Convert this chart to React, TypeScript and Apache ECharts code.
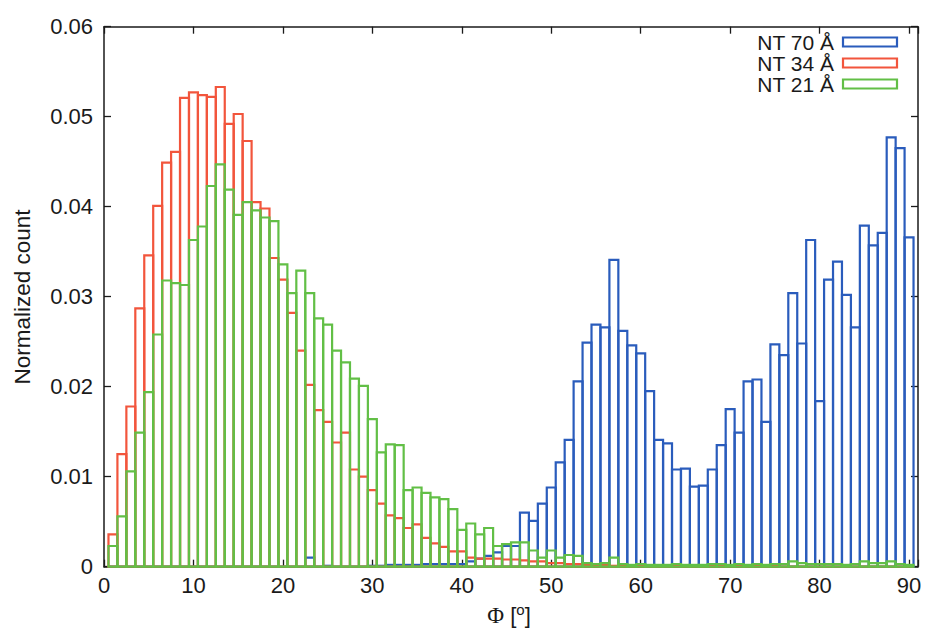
import React, { useEffect, useRef } from 'react';
import * as echarts from 'echarts';

// Bin centres (degrees), bins are 1 degree wide
const binCenters: number[] = Array.from({ length: 90 }, (_, i) => i + 1);

// NT 70 Å (blue)
const nt70: number[] = [
  0, 0, 0, 0, 0, 0, 0, 0, 0, 0,
  0, 0, 0, 0, 0, 0, 0, 0, 0, 0,
  0, 0, 0.0010, 0, 0.0001, 0, 0, 0, 0, 0.0001,
  0.0001, 0.0002, 0.0002, 0.0002, 0.0002, 0.0003, 0.0003, 0.0003, 0.0003, 0.0003,
  0.0006, 0.0009, 0.0012, 0.0016, 0.0023, 0.0023, 0.0060, 0.0051, 0.0070, 0.0088,
  0.0116, 0.0141, 0.0206, 0.0249, 0.0269, 0.0266, 0.0341, 0.0262, 0.0246, 0.0237,
  0.0195, 0.0141, 0.0137, 0.0108, 0.0109, 0.0089, 0.0090, 0.0108, 0.0135, 0.0175,
  0.0149, 0.0206, 0.0208, 0.0161, 0.0247, 0.0235, 0.0304, 0.0248, 0.0363, 0.0184,
  0.0319, 0.0339, 0.0302, 0.0266, 0.0379, 0.0357, 0.0371, 0.0477, 0.0465, 0.0366,
];

// NT 34 Å (red)
const nt34: number[] = [
  0.0036, 0.0125, 0.0178, 0.0287, 0.0346, 0.0401, 0.0449, 0.0461, 0.0521, 0.0527,
  0.0524, 0.0522, 0.0533, 0.0492, 0.0503, 0.0473, 0.0405, 0.0398, 0.0343, 0.0319,
  0.0282, 0.0240, 0.0202, 0.0174, 0.0161, 0.0138, 0.0149, 0.0108, 0.0100, 0.0085,
  0.0070, 0.0057, 0.0054, 0.0043, 0.0047, 0.0032, 0.0026, 0.0022, 0.0017, 0.0017,
  0.0010, 0.0009, 0.0009, 0.0009, 0.0008, 0.0008, 0.0007, 0.0006, 0.0006, 0.0004,
  0.0004, 0.0003, 0.0003, 0.0002, 0.0002, 0.0002, 0.0001, 0.0001, 0.0001, 0.0001,
  0.0001, 0.0001, 0.0001, 0.0001, 0.0001, 0.0001, 0.0001, 0.0001, 0.0001, 0.0001,
  0.0001, 0.0001, 0.0001, 0.0001, 0.0001, 0, 0, 0, 0, 0,
  0, 0, 0, 0, 0, 0, 0, 0, 0, 0,
];

// NT 21 Å (green)
const nt21: number[] = [
  0.0023, 0.0056, 0.0106, 0.0149, 0.0194, 0.0258, 0.0318, 0.0315, 0.0313, 0.0363,
  0.0378, 0.0423, 0.0447, 0.0419, 0.0391, 0.0405, 0.0396, 0.0388, 0.0384, 0.0336,
  0.0304, 0.0329, 0.0304, 0.0276, 0.0269, 0.0240, 0.0227, 0.0209, 0.0201, 0.0164,
  0.0127, 0.0136, 0.0135, 0.0085, 0.0088, 0.0082, 0.0077, 0.0075, 0.0064, 0.0041,
  0.0048, 0.0036, 0.0043, 0.0023, 0.0025, 0.0027, 0.0027, 0.0018, 0.0010, 0.0018,
  0.0010, 0.0013, 0.0012, 0.0004, 0.0003, 0.0004, 0.0010, 0.0003, 0.0002, 0.0003,
  0.0002, 0.0002, 0.0002, 0.0003, 0.0002, 0.0002, 0.0002, 0.0003, 0.0003, 0.0002,
  0.0003, 0.0002, 0.0003, 0.0002, 0.0003, 0.0003, 0.0006, 0.0004, 0.0003, 0.0003,
  0.0003, 0.0003, 0.0002, 0.0003, 0.0006, 0.0004, 0.0004, 0.0006, 0.0003, 0.0002,
];

const seriesNames = ['NT 70 Å', 'NT 34 Å', 'NT 21 Å'];
const seriesColors = ['#2a5cbc', '#f2553c', '#62bf46'];
const seriesValues = [nt70, nt34, nt21];

const BIN_WIDTH = 1;
const FONT = '"Liberation Sans", Arial, sans-serif';
const INK = '#1a1a1a';

export default function App() {
  const ref = useRef<HTMLDivElement>(null);

  useEffect(() => {
    if (!ref.current) return;
    const chart = echarts.init(ref.current, undefined, { renderer: 'svg' });

    const makeSeries = (idx: number) => ({
      type: 'custom',
      name: seriesNames[idx],
      silent: true,
      xAxisIndex: 0,
      yAxisIndex: 0,
      encode: { x: 0, y: 1 },
      data: binCenters.map((c, i) => [c, seriesValues[idx][i]]),
      renderItem: (params: any, api: any) => {
        const x = api.value(0);
        const y = api.value(1);
        const p0 = api.coord([x - BIN_WIDTH / 2, y]);
        const p1 = api.coord([x + BIN_WIDTH / 2, 0]);
        return {
          type: 'rect',
          shape: { x: p0[0], y: p0[1], width: p1[0] - p0[0], height: p1[1] - p0[1] },
          style: { fill: 'none', stroke: seriesColors[idx], lineWidth: 2.2 },
        };
      },
    });

    const axisLine = { show: true, onZero: false, lineStyle: { color: INK, width: 1.5 } };
    const axisTick = { show: true, inside: true, length: 7, lineStyle: { color: INK, width: 1.3 } };

    const legendRows = [42, 63, 84];

    const option: any = {
      animation: false,
      backgroundColor: '#ffffff',
      grid: { left: 104, right: 8, top: 26.7, bottom: 61.3, containLabel: false, outerBoundsMode: 'none' },
      xAxis: [
        {
          type: 'value', min: 0, max: 91, interval: 10, position: 'bottom',
          axisLine, axisTick,
          axisLabel: {
            color: INK, fontSize: 22, fontFamily: FONT, margin: 8,
            formatter: (v: number) => (v % 10 === 0 ? String(v) : ''),
          },
          splitLine: { show: false },
        },
        {
          type: 'value', min: 0, max: 91, interval: 10, position: 'top',
          axisLine, axisTick, axisLabel: { show: false }, splitLine: { show: false },
        },
      ],
      yAxis: [
        {
          type: 'value', min: 0, max: 0.06, interval: 0.01, position: 'left',
          axisLine, axisTick,
          axisLabel: {
            color: INK, fontSize: 22, fontFamily: FONT, margin: 11,
            formatter: (v: number) => (v === 0 ? '0' : v.toFixed(2)),
          },
          splitLine: { show: false },
        },
        {
          type: 'value', min: 0, max: 0.06, interval: 0.01, position: 'right',
          axisLine, axisTick, axisLabel: { show: false }, splitLine: { show: false },
        },
      ],
      series: [makeSeries(0), makeSeries(1), makeSeries(2)],
      graphic: [
        {
          type: 'text', x: 22, y: 297, rotation: Math.PI / 2,
          style: {
            text: 'Normalized count', fontSize: 22.5, fontFamily: FONT, fill: INK,
            align: 'center', verticalAlign: 'middle',
          },
        },
        {
          type: 'text', x: 509, y: 615,
          style: {
            text: '{p|Φ} [{s|o}]',
            fontSize: 22, fontFamily: FONT, fill: INK, align: 'center', verticalAlign: 'middle',
            rich: {
              p: { fontSize: 23, fontFamily: '"Liberation Serif", "DejaVu Serif", serif', fill: INK },
              s: { fontSize: 15, fontFamily: FONT, fill: INK, verticalAlign: 'top', lineHeight: 26 },
            },
          },
        },
        ...seriesNames.flatMap((name, i) => [
          {
            type: 'text', x: 834, y: legendRows[i],
            style: {
              text: name, fontSize: 21, lineHeight: 20, fontFamily: FONT, fill: INK,
              align: 'right', verticalAlign: 'middle',
            },
          },
          {
            type: 'rect', shape: { x: 843, y: legendRows[i] - 4.5, width: 54, height: 9 },
            style: { fill: '#ffffff', stroke: seriesColors[i], lineWidth: 2.2 },
          },
        ]),
      ],
    };

    chart.setOption(option);
    return () => chart.dispose();
  }, []);

  return (
    <div
      ref={ref}
      style={{ position: 'fixed', left: 0, top: 0, width: 926, height: 628, background: '#fff' }}
    />
  );
}
